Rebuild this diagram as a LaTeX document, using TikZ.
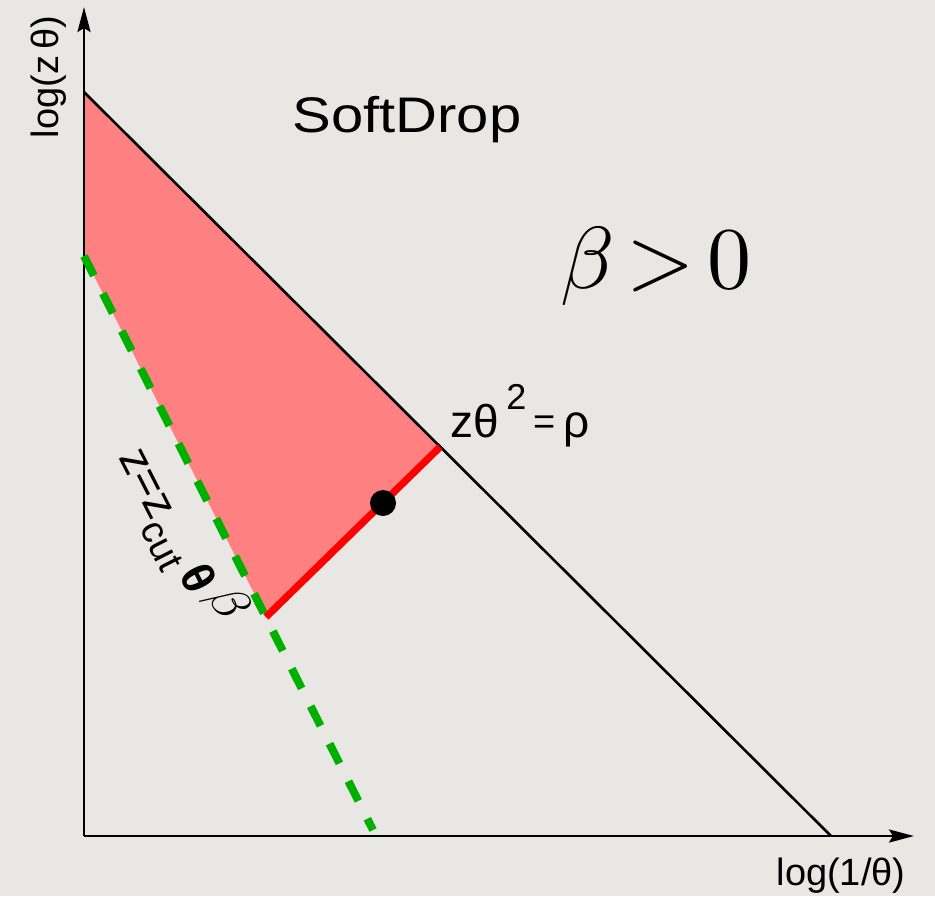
\documentclass[tikz,border=0pt]{standalone}
\usepackage{fontspec}
\setmainfont{Liberation Sans}
\usetikzlibrary{arrows.meta}
\definecolor{bg}{RGB}{232,231,228}
\definecolor{softred}{RGB}{255,128,128}
\definecolor{hardred}{RGB}{255,0,0}
\definecolor{dgreen}{RGB}{0,176,0}
\tikzset{
  axisline/.style={line width=1.3pt,-{Stealth[length=12.5pt,width=6.5pt,inset=2pt]}},
  thinline/.style={line width=1.3pt},
  greendash/.style={dgreen,line width=4pt,dash pattern=on 11pt off 10pt},
  redline/.style={hardred,line width=3.6pt},
  lbl/.style={inner sep=0pt,outer sep=0pt},
  dotstyle/.style={circle,fill=black,inner sep=0pt,minimum size=13pt}
}
\begin{document}
\begin{tikzpicture}[x=0.5pt,y=-0.5pt]
\fill[bg] (0,0) rectangle (935,896);
\useasboundingbox (0,0) rectangle (935,896);
\coordinate (O) at (84,836);
\coordinate (Ytop) at (84,7);
\coordinate (Xend) at (914,836);
\coordinate (A) at (84,92);
\coordinate (B) at (831,836);
\coordinate (P) at (440,447);
\coordinate (C) at (266,617);
\coordinate (D) at (84,256);
\coordinate (E) at (373,830);
\fill[softred] (A) -- (P) -- (C) -- (D) -- cycle;
\draw[axisline] (O) -- (Ytop);
\draw[axisline] (O) -- (Xend);
\draw[thinline] (A) -- (B);
\draw[greendash] (D) -- (E);
\draw[redline] (C) -- (P);
\node[dotstyle] (dot) at (383,503) {};
\node[lbl,anchor=base] (title) at (407,132) {\scalebox{1.16}[1]{\fontsize{25}{30}\selectfont SoftDrop}};
\node[lbl,anchor=base] (beta) at (656,288) {\scalebox{4.4}{$\beta\mkern-2.5mu > \mkern-2.5mu 0$}};
\node[lbl,anchor=base west] (rho) at (450,437) {\fontsize{23}{28}\selectfont zθ\,\raisebox{0.6em}{\fontsize{18}{20}\selectfont 2}\,\raisebox{0.05em}{\fontsize{19}{22}\selectfont =}\,ρ};
\node[lbl,anchor=base] (xlab) at (841,885) {\fontsize{19}{23}\selectfont log(1/θ)};
\node[lbl,anchor=base,rotate=90] (ylab) at (58,77) {\fontsize{19}{23}\selectfont log(z\,θ)};
\node[lbl,rotate=-63] (zcut) at (180,536) {\fontsize{23}{27}\selectfont z=z\raisebox{-0.3em}{\fontsize{19}{22}\selectfont cut}\,{\bfseries θ}\,\raisebox{0.35em}{\scalebox{2.6}{\normalsize$\beta$}}};
\end{tikzpicture}
\end{document}
